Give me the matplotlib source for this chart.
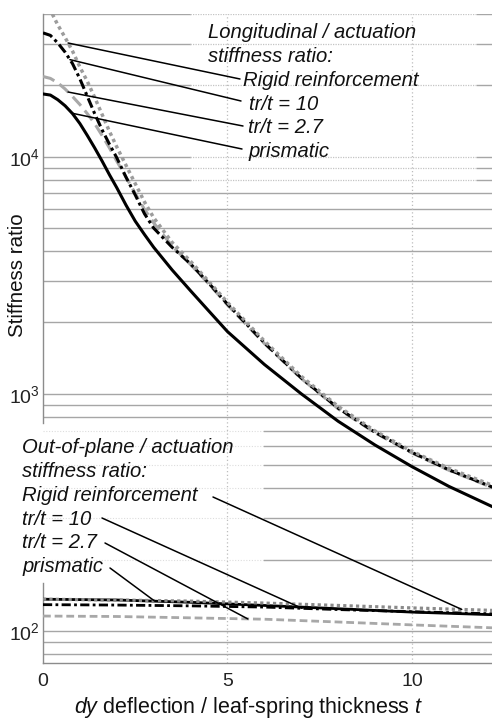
import numpy as np
import matplotlib
matplotlib.use("Agg")
import matplotlib.pyplot as plt
from matplotlib.ticker import NullLocator, FixedLocator, FixedFormatter

plt.rcParams['font.family'] = ['Liberation Sans', 'DejaVu Sans']
plt.rcParams['mathtext.fontset'] = 'custom'
plt.rcParams['mathtext.rm'] = 'Liberation Sans'
plt.rcParams['mathtext.it'] = 'Liberation Sans:italic'
plt.rcParams['mathtext.default'] = 'regular'

# ---------------- data ----------------
x_long = [0, 0.2, 0.4, 0.6, 0.8, 1.0, 1.2, 1.4, 1.6, 1.8, 2.0, 2.25, 2.5, 2.75, 3.0,
          3.5, 4.0, 4.5, 5.0, 6.0, 7.0, 8.0, 9.0, 10.0, 11.0, 12.2]
long_rigid = [44000, 41500, 36000, 31800, 27900, 23900, 20800, 17800, 15100, 12800, 11000,
              9200, 7700, 6450, 5530, 4350, 3620, 2970, 2430, 1670, 1185, 885, 697, 572, 485, 410]
long_tr10 = [33300, 32500, 30200, 27600, 24700, 21300, 18000, 15200, 13000, 11300, 9900,
             8200, 6900, 5750, 5000, 4150, 3530, 2920, 2390, 1640, 1165, 870, 688, 566, 478, 403]
long_tr27 = [21800, 21400, 20500, 19300, 17950, 16600, 15200, 13800, 12300, 10900, 9580,
             8200, 7000, 6000, 5260, 4200, 3510, 2900, 2370, 1630, 1160, 865, 685, 563, 476, 401]
long_prism = [18400, 18200, 17400, 16400, 15200, 13800, 12300, 10900, 9600, 8400, 7400,
              6250, 5350, 4700, 4150, 3330, 2720, 2230, 1830, 1330, 1000, 766, 608, 493, 407, 333]

x_oop = [0, 2, 4, 6, 8, 10, 12.2]
oop_rigid = [136, 135, 133.5, 131, 128, 125, 122]
oop_tr10 = [129, 128.5, 127.5, 126, 123, 120.5, 118]
oop_tr27 = [115.5, 115, 113.5, 112, 109, 106, 103]
oop_prism = [136, 135, 132, 128, 124, 120, 117]

x_ticks = [0, 5, 10]
x_ticklabels = ['0', '5', '10']
y_ticks = [100, 1000, 10000]
y_ticklabels = [r'$10^{2}$', r'$10^{3}$', r'$10^{4}$']
grid_vals = [80, 90, 100, 200, 300, 400, 500, 600, 700, 800, 900, 1000,
             2000, 3000, 4000, 5000, 6000, 7000, 8000, 9000, 10000, 20000, 30000, 40000]

long_labels = ['Longitudinal / actuation', 'stiffness ratio:']
long_series = ['Rigid reinforcement', 'tr/t = 10', 'tr/t = 2.7', 'prismatic']
oop_labels = ['Out-of-plane / actuation', 'stiffness ratio:']
oop_series = ['Rigid reinforcement', 'tr/t = 10', 'tr/t = 2.7', 'prismatic']
xlabel = r'$\mathit{dy}$ deflection / leaf-spring thickness $\mathit{t}$'
ylabel = 'Stiffness ratio'

# ---------------- figure ----------------
W, H = 492, 720
fig = plt.figure(figsize=(W / 100, H / 100), dpi=100)
ax_l, ax_r, ax_t, ax_b = 43, 492, 14, 663
ax = fig.add_axes([ax_l / W, 1 - ax_b / H, (ax_r - ax_l) / W, (ax_b - ax_t) / H])
ax.set_yscale('log')
ax.set_xlim(0, 12.17)
ax.set_ylim(73.2, 40000)

def fx(px):
    return (px - ax_l) / (ax_r - ax_l)

def ypx(v):
    lo, hi = np.log10(73.2), np.log10(40000)
    return ax_b - (np.log10(v) - lo) / (hi - lo) * (ax_b - ax_t)

solid_c = '#a6a6a6'
dot_c = '#c4c4c4'
for v in grid_vals:
    py = ypx(v)
    if py < 186:  # region behind top annotation
        ax.axhline(v, xmin=0, xmax=fx(190), color=solid_c, lw=1.0, zorder=1)
        ax.axhline(v, xmin=fx(190), xmax=fx(477), color=dot_c, lw=0.9, ls=(0, (1, 1)), zorder=1)
        ax.axhline(v, xmin=fx(477), xmax=1, color=solid_c, lw=1.0, zorder=1)
    elif 423 < py < 584:  # region behind bottom annotation
        ax.axhline(v, xmin=0, xmax=fx(264), color='#dddddd', lw=0.8, ls=(0, (1, 1.5)), zorder=1)
        ax.axhline(v, xmin=fx(264), xmax=1, color=solid_c, lw=1.0, zorder=1)
    else:
        ax.axhline(v, color=solid_c, lw=1.0, zorder=1)
for xv in [5, 10]:
    ax.axvline(xv, color='#bdbdbd', lw=0.9, ls=(0, (1, 2)), zorder=1)

# spines
for s in ['top', 'right', 'left']:
    ax.spines[s].set_visible(False)
ax.spines['bottom'].set_color('#8c8c8c')
ax.spines['bottom'].set_linewidth(1.0)
ax.axvline(0, ymin=0, ymax=(ax_b - 583) / (ax_b - ax_t), color='#8c8c8c', lw=1.0, clip_on=False)
ax.axvline(0, ymin=(ax_b - 423) / (ax_b - ax_t), ymax=1, color='#8c8c8c', lw=1.0, clip_on=False)

# curves: longitudinal
ax.plot(x_long, long_prism, color='black', lw=2.2, ls='-', zorder=3)
ax.plot(x_long, long_tr27, color='#a8a8a8', lw=2.2, ls=(0, (4, 2)), zorder=3)
ax.plot(x_long, long_tr10, color='black', lw=2.2, ls=(0, (3.3, 1.2, 1, 1.2)), zorder=4)
ax.plot(x_long, long_rigid, color='#9c9c9c', lw=2.5, ls=(0, (1, 1)), zorder=5)
# curves: out-of-plane
ax.plot(x_oop, oop_prism, color='black', lw=2.0, ls='-', zorder=3)
ax.plot(x_oop, oop_tr27, color='#a8a8a8', lw=2.0, ls=(0, (2.8, 1.4)), zorder=3)
ax.plot(x_oop, oop_tr10, color='black', lw=2.0, ls=(0, (3.3, 1.2, 1, 1.2)), zorder=4)
ax.plot(x_oop, oop_rigid, color='#8a8a8a', lw=2.3, ls=(0, (1, 1)), zorder=5)

# ticks
ax.xaxis.set_major_locator(FixedLocator(x_ticks))
ax.xaxis.set_major_formatter(FixedFormatter(x_ticklabels))
ax.yaxis.set_major_locator(FixedLocator(y_ticks))
ax.yaxis.set_major_formatter(FixedFormatter(y_ticklabels))
ax.yaxis.set_minor_locator(NullLocator())
ax.xaxis.set_minor_locator(NullLocator())
ax.tick_params(axis='both', length=0, labelsize=14, colors='#222222')
ax.tick_params(axis='x', pad=7)
ax.tick_params(axis='y', pad=2)

TXT = '#111111'
fig.text(249 / W, 1 - 713 / H, xlabel, ha='center', va='baseline', fontsize=15.5, color=TXT)
fig.text(18 / W, 1 - 275 / H, ylabel, ha='center', va='center', rotation=90, fontsize=14.8, color=TXT)

def ftext(px, py, s):
    fig.text(px / W, 1 - py / H, s, ha='left', va='baseline', fontsize=14.6,
             style='italic', color=TXT)

# top annotation text
ftext(208, 38, long_labels[0])
ftext(208, 62, long_labels[1])
top_pos = [(243, 86), (249, 110), (248, 133), (249, 157)]
for (px, py), s in zip(top_pos, long_series):
    ftext(px, py, s)
# bottom annotation text
ftext(22, 453, oop_labels[0])
ftext(22, 477, oop_labels[1])
bot_pos = [(22, 501), (22, 525), (22, 548), (22, 572)]
for (px, py), s in zip(bot_pos, oop_series):
    ftext(px, py, s)

def curve_val(xs, ys, xa):
    return 10 ** np.interp(xa, xs, np.log10(ys))

def pointer(xs, ys, xa, tx, ty):
    ax.annotate('', xy=(xa, curve_val(xs, ys, xa)), xycoords='data',
                xytext=(tx, H - ty), textcoords='figure pixels',
                arrowprops=dict(arrowstyle='-', lw=1.1, color='black',
                                shrinkA=0, shrinkB=0), zorder=6)

pointer(x_long, long_rigid, 0.68, 240, 79)
pointer(x_long, long_tr10, 0.73, 241, 101)
pointer(x_long, long_tr27, 0.68, 243, 126)
pointer(x_long, long_prism, 0.79, 242, 149)

pointer(x_oop, oop_rigid, 11.35, 213, 497)
pointer(x_oop, oop_tr10, 7.02, 102, 518)
pointer(x_oop, oop_tr27, 5.55, 105, 543)
pointer(x_oop, oop_prism, 3.03, 110, 568)

fig.savefig('out.png', dpi=100)
